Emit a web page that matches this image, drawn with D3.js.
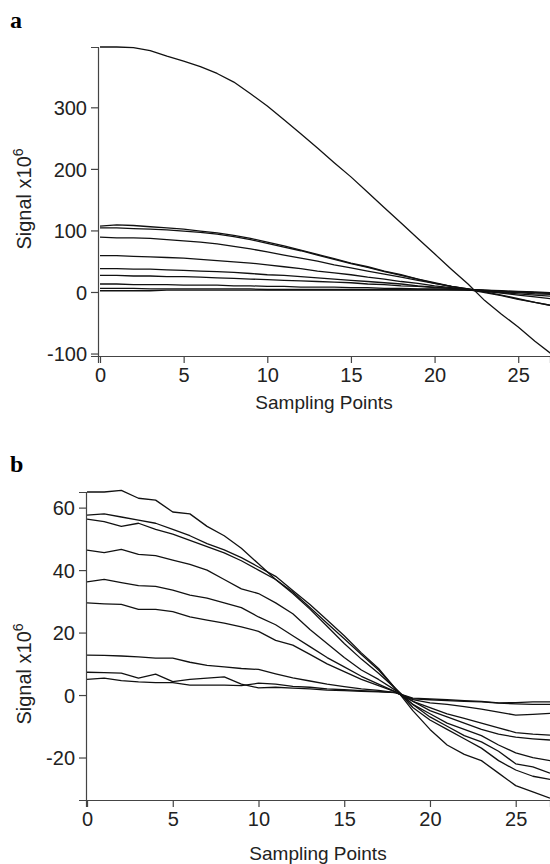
<!DOCTYPE html>
<html>
<head>
<meta charset="utf-8">
<script src="https://cdn.jsdelivr.net/npm/d3@7"></script>
<style>
  body { margin: 0; background: #fff; }
  svg { display: block; }
</style>
</head>
<body>
<svg width="550" height="864"></svg>
<script>
// sampling points shared by both panels
const samplingPoints = [0,1,2,3,4,5,6,7,8,9,10,11,12,13,14,15,16,17,18,19,20,21,22,23,24,25,26,27];
const xTicks = [0, 5, 10, 15, 20, 25];
const yTicksA = [-100, 0, 100, 200, 300];
const yTicksB = [-20, 0, 20, 40, 60];

// panel a signals (x10^6)
const sigA0 = [398,398,397,392,383,375,366,355,341,322,302,280,257,234,210,187,162,137,112,87,62,37,13,-14,-36,-57,-80,-101];
const sigA1 = [107,109,108,106,104,102,99,96,92,87,81,75,68,61,54,47,41,34,28,21,15,9,5,0,-5,-11,-17,-22];
const sigA2 = [104,104,103,102,101,99,97,94,90,85,79,73,67,60,53,46,40,33,27,21,14,9,4,-1,-6,-12,-17,-22];
const sigA3 = [89,88,88,87,85,83,81,78,74,70,65,60,55,50,44,39,34,29,24,19,14,9,5,1,-2,-5,-8,-11];
const sigA4 = [59,59,58,57,56,55,53,51,49,47,44,41,38,34,31,28,24,21,17,14,10,7,4,1,-1,-3,-5,-7];
const sigA5 = [38,38,37,37,36,35,34,33,32,30,28,27,25,23,21,19,17,15,13,10,8,6,4,2,0,-1,-3,-4];
const sigA6 = [27,27,26,26,25,25,24,23,22,21,20,19,18,17,16,15,13,12,10,9,7,6,4,3,1,0,-1,-2];
const sigA7 = [13,13,12,12,12,11,11,11,10,10,9,9,8,8,8,7,7,6,6,5,5,4,4,3,2,1,0,-1];
const sigA8 = [6,6,6,5,5,5,5,5,5,5,4,4,4,4,4,4,4,4,4,4,4,4,3,2,1,0,-1,-2];
const sigA9 = [2,2,2,2,3,3,3,3,3,3,3,3,3,3,3,3,3,3,3,3,3,3,3,2,1,0,-1,-2];

// panel b signals (x10^6)
const sigB1 = [65,65,65.5,63,62.4,58.6,58,54,51,47,42,37,32.5,27.5,22,16.5,11.5,7,2,-5,-11,-16,-19,-21,-25,-29,-31,-33];
const sigB2 = [57.6,58,57,56,55,53,51,48.5,46.5,44,41,38,33.5,29,24,19,13.5,8.5,2,-4,-8,-11,-14,-17,-21,-24,-26,-27];
const sigB3 = [56.3,55.5,54,55,53,51.5,49.5,47.5,45.5,43,40,37,33,28,23,18,13,8,2,-3,-7,-10,-13,-15,-18,-22,-23,-25];
const sigB4 = [46.4,45.6,46.6,45,44.6,43.2,41.8,40,37,34,32.5,29.5,26,21,16.5,12,8,5,1.5,-3,-6,-9,-11,-13,-16,-18.5,-20,-21];
const sigB5 = [36.2,37,36,35,34.8,33.6,32,31,29.5,28,25,22.5,19,15.5,12,9,6,3.5,1,-2,-5,-7,-9,-11,-12.5,-13.5,-14,-14.4];
const sigB6 = [29.5,29.2,29,27.4,27.4,26.7,25,24,23,21.8,20.4,17.5,16,13,10,7.5,5,3,1,-2,-4,-6,-7.5,-9,-10.5,-12,-12.5,-12.8];
const sigB7 = [12.8,12.7,12.5,12.2,11.8,11.8,10.5,9.5,9,8.5,8.2,6.8,5.5,4.5,3.5,2.7,2,1.5,0.8,-1.5,-2.5,-3,-3.7,-4.5,-5.5,-6.4,-6.2,-5.9];
const sigB8 = [7.3,7.2,7,5.4,6.7,4.3,5,5.4,5.8,3.5,2.3,2.5,2.2,2,1.6,1.4,1.2,1,0.8,-1.2,-1.5,-1.8,-2,-2.2,-2.6,-2.8,-3,-3];
const sigB9 = [5,5.4,4.6,4.2,4,4,3.2,3.2,3.2,3,3.8,3.5,2.8,2.5,2,1.7,1.4,1.2,0.8,-1,-1.2,-1.5,-1.8,-2,-2.5,-2.4,-2.2,-2.2];

const seriesA = [sigA0, sigA1, sigA2, sigA3, sigA4, sigA5, sigA6, sigA7, sigA8, sigA9];
const seriesB = [sigB1, sigB2, sigB3, sigB4, sigB5, sigB6, sigB7, sigB8, sigB9];

const svg = d3.select("svg");
const font = "'Liberation Sans', Arial, Helvetica, sans-serif";

const drawPanel = (p) => {
  const x = d3.scaleLinear().domain(p.xDomain).range([p.left, p.right]);
  const y = d3.scaleLinear().domain(p.yDomain).range([p.bottom, p.top]);
  const g = svg.append("g");

  //panel letter
  g.append("text")
    .attr("x", 10)
    .attr("y", p.letterY)
    .attr("font-family", "'Liberation Serif', 'Times New Roman', serif")
    .attr("font-weight", "bold")
    .attr("font-size", 24)
    .text(p.letter);

  //axes, plain hyphen for negative labels like the original
  const fmt = (d) => String(d);
  const xAxis = g.append("g")
    .attr("transform", `translate(0,${p.bottom})`)
    .call(d3.axisBottom(x).tickValues(xTicks).tickFormat(fmt).tickSizeOuter(0).tickSize(7).tickPadding(5));
  const yAxis = g.append("g")
    .attr("transform", `translate(${p.left},0)`)
    .call(d3.axisLeft(y).tickValues(p.yTicks).tickFormat(fmt).tickSizeOuter(0).tickSize(7).tickPadding(4));
  [xAxis, yAxis].forEach((a) => {
    a.selectAll("path, line").attr("stroke", "#444").attr("stroke-width", 1.2);
    a.selectAll("text").attr("font-family", font).attr("font-size", 20).attr("fill", "#222");
  });
  yAxis.selectAll("text").attr("dy", "0.36em");

  //axis titles
  g.append("text")
    .attr("x", (p.left + p.right) / 2)
    .attr("y", p.xTitleY)
    .attr("text-anchor", "middle")
    .attr("font-family", font)
    .attr("font-size", 19)
    .attr("fill", "#222")
    .text("Sampling Points");

  const yt = g.append("text")
    .attr("transform", `translate(31,${p.yTitleY}) rotate(-90)`)
    .attr("text-anchor", "middle")
    .attr("font-family", font)
    .attr("font-size", 20)
    .attr("fill", "#222");
  yt.append("tspan").text("Signal x10");
  yt.append("tspan").attr("font-size", 14).attr("dy", -8).text("6");

  //signal lines
  const line = d3.line()
    .x((d, i) => x(samplingPoints[i]))
    .y((d) => y(d));
  g.append("g")
    .selectAll("path")
    .data(p.series)
    .join("path")
    .attr("d", line)
    .attr("fill", "none")
    .attr("stroke", "#111")
    .attr("stroke-width", 1.3)
    .attr("stroke-linejoin", "round");
};

drawPanel({
  letter: "a", letterY: 28,
  series: seriesA, yTicks: yTicksA,
  xDomain: [-0.12, 26.9], yDomain: [-104, 398],
  left: 98, right: 550, top: 47, bottom: 356,
  xTitleY: 409, yTitleY: 199,
});

drawPanel({
  letter: "b", letterY: 472,
  series: seriesB, yTicks: yTicksB,
  xDomain: [-0.06, 27], yDomain: [-33.6, 65],
  left: 86, right: 550, top: 492, bottom: 800,
  xTitleY: 860, yTitleY: 674,
});
</script>
</body>
</html>
